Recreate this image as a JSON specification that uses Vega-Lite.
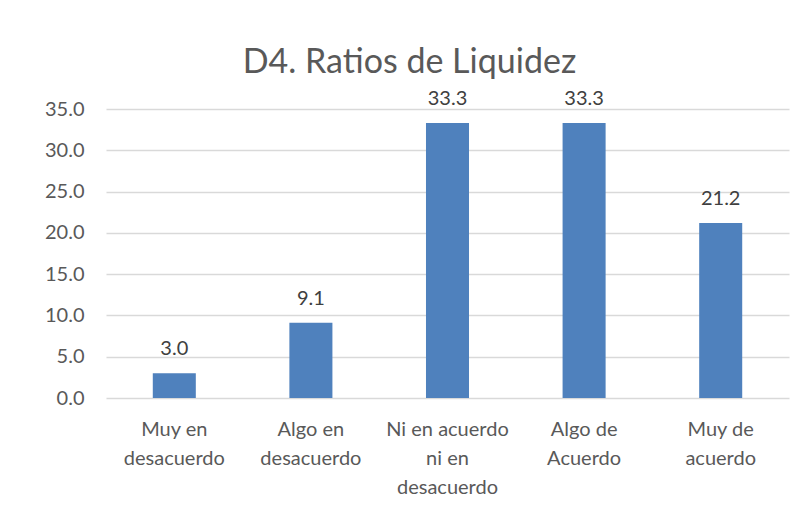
{
  "$schema": "https://vega.github.io/schema/vega-lite/v6.json",
  "autosize": {"type": "none"},
  "width": 683,
  "height": 289,
  "padding": {"left": 106, "top": 109, "right": 14, "bottom": 115},
  "background": "white",
  "title": {
    "text": "D4. Ratios de Liquidez",
    "font": "Lato",
    "fontSize": 34,
    "fontWeight": "normal",
    "color": "#595959",
    "anchor": "middle",
    "frame": "group",
    "dx": -38,
    "offset": 9
  },
  "data": {
    "values": [
      {"cat": "Muy en desacuerdo", "value": 3.0},
      {"cat": "Algo en desacuerdo", "value": 9.1},
      {"cat": "Ni en acuerdo ni en desacuerdo", "value": 33.3},
      {"cat": "Algo de Acuerdo", "value": 33.3},
      {"cat": "Muy de acuerdo", "value": 21.2}
    ]
  },
  "config": {
    "view": {"stroke": null},
    "font": "Lato"
  },
  "encoding": {
    "x": {
      "field": "cat",
      "type": "nominal",
      "sort": null,
      "scale": {"paddingInner": 0.685, "paddingOuter": 0.3425},
      "axis": {
        "title": null,
        "labelAngle": 0,
        "labelFont": "Lato",
        "labelFontSize": 20,
        "labelColor": "#595959",
        "labelLineHeight": 29,
        "labelPadding": 21,
        "labelBaseline": "top",
        "domain": false,
        "ticks": false,
        "labelExpr": "datum.label == 'Muy en desacuerdo' ? ['Muy en','desacuerdo'] : datum.label == 'Algo en desacuerdo' ? ['Algo en','desacuerdo'] : datum.label == 'Ni en acuerdo ni en desacuerdo' ? ['Ni en acuerdo','ni en','desacuerdo'] : datum.label == 'Algo de Acuerdo' ? ['Algo de','Acuerdo'] : ['Muy de','acuerdo']"
      }
    },
    "y": {
      "field": "value",
      "type": "quantitative",
      "scale": {"domain": [0, 35], "nice": false},
      "axis": {
        "title": null,
        "values": [0, 5, 10, 15, 20, 25, 30, 35],
        "format": ".1f",
        "labelFont": "Lato",
        "labelFontSize": 20,
        "labelColor": "#595959",
        "labelPadding": 22,
        "domain": false,
        "ticks": false,
        "grid": true,
        "gridColor": "#d9d9d9",
        "gridWidth": 1.5
      }
    }
  },
  "layer": [
    {"mark": {"type": "bar", "color": "#4F81BD"}},
    {
      "mark": {"type": "text", "baseline": "middle", "dy": -24, "fontSize": 20, "color": "#404040", "font": "Lato"},
      "encoding": {"text": {"field": "value", "type": "quantitative", "format": ".1f"}}
    }
  ]
}
